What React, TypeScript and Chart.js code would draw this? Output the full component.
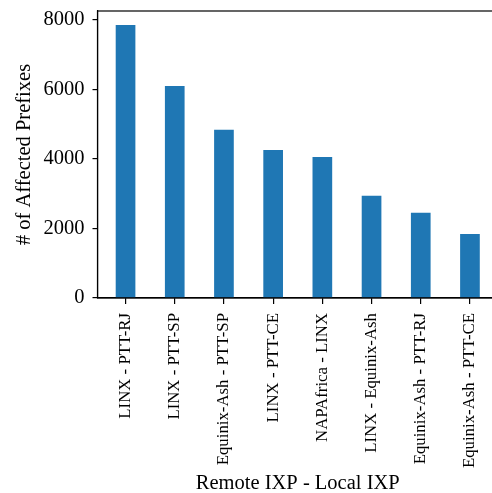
import React, { useEffect, useRef } from "react";
import { Chart, registerables } from "chart.js";

Chart.register(...registerables);

const categories: string[] = [
  "LINX - PTT-RJ",
  "LINX - PTT-SP",
  "Equinix-Ash - PTT-SP",
  "LINX - PTT-CE",
  "NAPAfrica - LINX",
  "LINX - Equinix-Ash",
  "Equinix-Ash - PTT-RJ",
  "Equinix-Ash - PTT-CE",
];
const affectedPrefixes: number[] = [7860, 6100, 4840, 4260, 4060, 2940, 2450, 1845];
const yTicks: number[] = [0, 2000, 4000, 6000, 8000];
const yMax = 8260;
const xMin = -0.57;
const xMax = 7.57;

const FONT = "'Liberation Serif', 'DejaVu Serif', serif";

const framePlugin = {
  id: "frame",
  afterDraw(chart: any) {
    const { ctx, chartArea } = chart;
    ctx.save();
    ctx.strokeStyle = "#000";
    ctx.lineWidth = 1.2;
    ctx.strokeRect(chartArea.left, chartArea.top, chartArea.right - chartArea.left, chartArea.bottom - chartArea.top);
    ctx.restore();
  },
};

export default function App() {
  const ref = useRef<HTMLCanvasElement | null>(null);
  useEffect(() => {
    if (!ref.current) return;
    const chart = new Chart(ref.current, {
      type: "bar",
      data: {
        datasets: [
          {
            data: affectedPrefixes.map((v, i) => ({ x: i, y: v })),
            backgroundColor: "#1f77b4",
            barPercentage: 0.4,
            categoryPercentage: 1,
          },
        ],
      },
      options: {
        responsive: false,
        animation: false,
        devicePixelRatio: 1,
        layout: { padding: { top: 11, right: 2, left: 0, bottom: 0 } },
        plugins: { legend: { display: false }, tooltip: { enabled: false } },
        scales: {
          x: {
            type: "linear",
            min: xMin,
            max: xMax,
            offset: false,
            afterBuildTicks: (scale: any) => {
              scale.ticks = categories.map((_, i) => ({ value: i }));
            },
            grid: { display: true, offset: false, drawOnChartArea: false, drawTicks: true, tickLength: 6, color: "#000", lineWidth: 1.2 },
            border: { display: true, color: "#000", width: 1.2 },
            ticks: {
              color: "#000",
              font: { family: FONT, size: 16.8 },
              minRotation: 90,
              maxRotation: 90,
              autoSkip: false,
              padding: 9,
              callback: (v: any) => categories[Math.round(Number(v))] ?? "",
            },
            title: {
              display: true,
              text: "Remote IXP - Local IXP",
              color: "#000",
              font: { family: FONT, size: 20.5 },
              padding: { top: 0, bottom: -3 },
            },
            afterFit: (scale: any) => {
              scale.height = 195;
              scale.paddingLeft = 0;
              scale.paddingRight = 0;
            },
          },
          y: {
            min: 0,
            max: yMax,
            afterBuildTicks: (scale: any) => {
              scale.ticks = yTicks.map((v) => ({ value: v }));
            },
            grid: { display: true, drawOnChartArea: false, drawTicks: true, tickLength: 5, color: "#000", lineWidth: 1.2 },
            border: { display: true, color: "#000", width: 1.2 },
            ticks: {
              color: "#000",
              font: { family: FONT, size: 20.5 },
              padding: 8,
              callback: (v: any) => String(v),
            },
            title: {
              display: true,
              text: "# of Affected Prefixes",
              color: "#000",
              font: { family: FONT, size: 20.5 },
              padding: { top: 12, bottom: 6 },
            },
            afterFit: (scale: any) => {
              scale.width = 97.5;
              scale.paddingTop = 0;
              scale.paddingBottom = 0;
            },
          },
        },
      },
      plugins: [framePlugin],
    });
    return () => chart.destroy();
  }, []);
  return (
    <div style={{ position: "absolute", left: 0, top: 0, width: 492, height: 493, overflow: "hidden", background: "#fff" }}>
      <canvas ref={ref} width={500} height={493} />
    </div>
  );
}
